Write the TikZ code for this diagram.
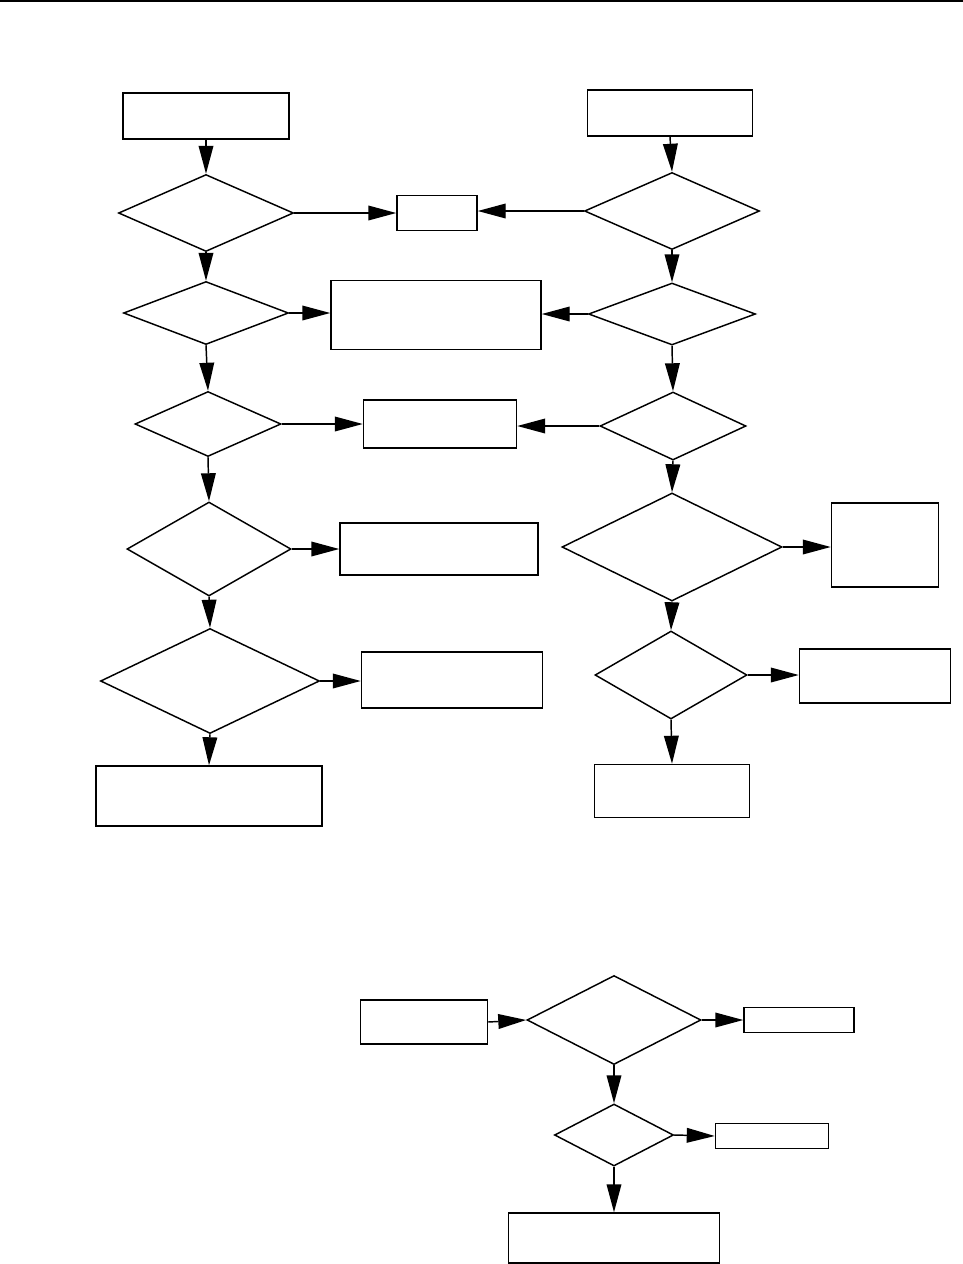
\documentclass[tikz,border=0pt]{standalone}
\usetikzlibrary{shapes.geometric,arrows.meta}
\begin{document}
\begin{tikzpicture}[x=0.75pt,y=-0.75pt,
  line width=1.1pt,
  rbox/.style 2 args={draw,rectangle,inner sep=0pt,minimum width=#1*0.75pt,minimum height=#2*0.75pt},
  dbox/.style 2 args={draw,diamond,inner sep=0pt,minimum width=#1*0.75pt,minimum height=#2*0.75pt},
  arr/.style={-{Triangle[length=21pt,width=11pt]}}]
\useasboundingbox (0,0) rectangle (963,1264);
\draw[line width=1.6pt] (0,1) -- (963,1);
% left column
\node[rbox={166}{46}] (R1) at (206,116) {};
\node[dbox={175}{77}] (D1) at (206,213) {};
\node[rbox={80}{35}] (S) at (437,213) {};
\node[dbox={165}{63}] (D2) at (206,313) {};
\node[rbox={210}{69}] (B2) at (436,315) {};
\node[dbox={146}{65}] (D3) at (208,424) {};
\node[rbox={153}{48}] (B3) at (440,424) {};
\node[dbox={164}{94}] (D4) at (209,549) {};
\node[rbox={198}{52}] (B4) at (439,549) {};
\node[dbox={219}{105}] (D5) at (210,681) {};
\node[rbox={181}{56}] (B5) at (452,680) {};
\node[rbox={226}{60}] (B6) at (209,796) {};
% right column
\node[rbox={165}{46}] (R2) at (670,113) {};
\node[dbox={175}{77}] (E1) at (672,211) {};
\node[dbox={167}{62}] (E2) at (672,314) {};
\node[dbox={146}{68}] (E3) at (673,426) {};
\node[dbox={220}{108}] (E4) at (672,547) {};
\node[rbox={107}{84}] (B7) at (885,545) {};
\node[dbox={152}{88}] (E5) at (671,675) {};
\node[rbox={151}{54}] (B8) at (875,676) {};
\node[rbox={155}{53}] (B9) at (672,791) {};
% bottom
\node[rbox={127}{44}] (BL) at (424,1022) {};
\node[dbox={174}{89}] (F1) at (614,1020) {};
\node[rbox={110}{25}] (BR1) at (799,1020) {};
\node[dbox={119}{62}] (F2) at (614,1135) {};
\node[rbox={113}{25}] (BR2) at (772,1136) {};
\node[rbox={211}{50}] (B10) at (614,1238) {};
% connectors left
\draw[arr] (R1.south) -- (D1.north);
\draw[arr] (D1.east) -- (D1.east -| S.west);
\draw[arr] (D1.south) -- (D2.north);
\draw[arr] (D2.east) -- (D2.east -| B2.west);
\draw[arr] (D2.south) -- (D3.north);
\draw[arr] (D3.east) -- (D3.east -| B3.west);
\draw[arr] (D3.south) -- (D4.north);
\draw[arr] (D4.east) -- (D4.east -| B4.west);
\draw[arr] (D4.south) -- (D5.north);
\draw[arr] (D5.east) -- (D5.east -| B5.west);
\draw[arr] (D5.south) -- (B6.north);
% connectors right
\draw[arr] (R2.south) -- (E1.north);
\draw[arr] (E1.west) -- (E1.west -| S.east);
\draw[arr] (E1.south) -- (E2.north);
\draw[arr] (E2.west) -- (E2.west -| B2.east);
\draw[arr] (E2.south) -- (E3.north);
\draw[arr] (E3.west) -- (E3.west -| B3.east);
\draw[arr] (E3.south) -- (E4.north);
\draw[arr] (E4.east) -- (E4.east -| B7.west);
\draw[arr] (E4.south) -- (E5.north);
\draw[arr] (E5.east) -- (E5.east -| B8.west);
\draw[arr] (E5.south) -- (B9.north);
% connectors bottom
\draw[arr] (BL.east) -- (F1.west);
\draw[arr] (F1.east) -- (BR1.west);
\draw[arr] (F1.south) -- (F2.north);
\draw[arr] (F2.east) -- (BR2.west);
\draw[arr] (F2.south) -- (B10.north);
\end{tikzpicture}
\end{document}
